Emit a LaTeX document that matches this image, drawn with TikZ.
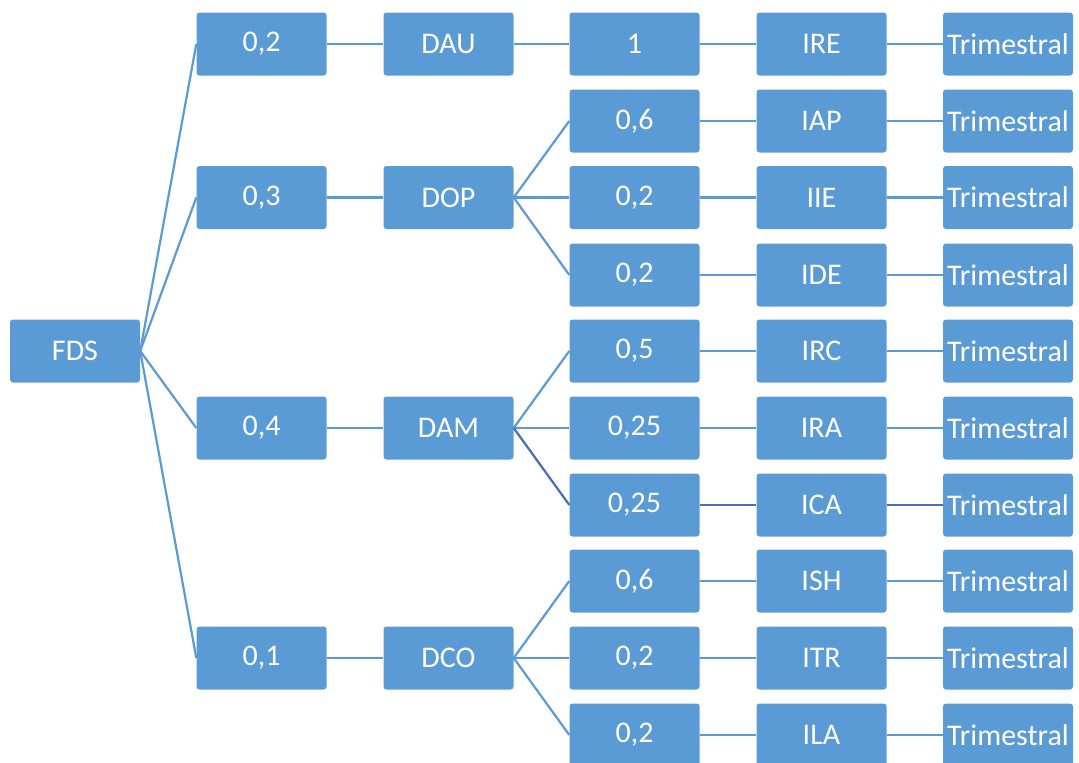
\documentclass[tikz,border=0pt]{standalone}
\usepackage{fontspec}
\setmainfont{Carlito}
\definecolor{boxblue}{HTML}{5B9BD5}
\definecolor{darkline}{HTML}{4A6DB8}
\begin{document}
\begin{tikzpicture}[x=1pt,y=-1pt,
  bx/.style={draw=none,fill=boxblue,rounded corners=3pt,minimum width=130pt,minimum height=63pt,inner sep=0pt,text=white,font=\fontsize{30}{34}\selectfont},
  ln/.style={draw=boxblue,line width=2.2pt},
  dln/.style={draw=darkline,line width=2.2pt}]
\useasboundingbox (0,0) rectangle (1079,763);
\clip (0,0) rectangle (1079,763);
% column 1
\node[bx] (fds) at (75,351) {FDS};
% column 2
\node[bx] (w1) at (261.5,44) {0,2};
\node[bx] (w2) at (261.5,197.5) {0,3};
\node[bx] (w3) at (261.5,428) {0,4};
\node[bx] (w4) at (261.5,658) {0,1};
% column 3
\node[bx] (dau) at (448.5,44) {DAU};
\node[bx] (dop) at (448.5,197.5) {DOP};
\node[bx] (dam) at (448.5,428) {DAM};
\node[bx] (dco) at (448.5,658) {DCO};
% column 4
\node[bx] (v1) at (634.5,44) {1};
\node[bx] (v2) at (634.5,121) {0,6};
\node[bx] (v3) at (634.5,197.5) {0,2};
\node[bx] (v4) at (634.5,275) {0,2};
\node[bx] (v5) at (634.5,351) {0,5};
\node[bx] (v6) at (634.5,428) {0,25};
\node[bx] (v7) at (634.5,505) {0,25};
\node[bx] (v8) at (634.5,581) {0,6};
\node[bx] (v9) at (634.5,658) {0,2};
\node[bx] (v10) at (634.5,735) {0,2};
% column 5
\node[bx] (i1) at (821.5,44) {IRE};
\node[bx] (i2) at (821.5,121) {IAP};
\node[bx] (i3) at (821.5,197.5) {IIE};
\node[bx] (i4) at (821.5,275) {IDE};
\node[bx] (i5) at (821.5,351) {IRC};
\node[bx] (i6) at (821.5,428) {IRA};
\node[bx] (i7) at (821.5,505) {ICA};
\node[bx] (i8) at (821.5,581) {ISH};
\node[bx] (i9) at (821.5,658) {ITR};
\node[bx] (i10) at (821.5,735) {ILA};
% column 6
\foreach \n/\y in {1/44,2/121,3/197.5,4/275,5/351,6/428,7/505,8/581,9/658,10/735}
  \node[bx] (t\n) at (1008,\y) {Trimestral};
% connectors
\foreach \k in {1,2,3,4} \draw[ln] (fds.east) -- (w\k.west);
\draw[ln] (w1) -- (dau);
\draw[ln] (w2) -- (dop);
\draw[ln] (w3) -- (dam);
\draw[ln] (w4) -- (dco);
\draw[ln] (dau) -- (v1);
\foreach \k in {2,3,4} \draw[ln] (dop.east) -- (v\k.west);
\draw[ln] (dam.east) -- (v5.west);
\draw[ln] (dam.east) -- (v6.west);
\draw[dln] (dam.east) -- (v7.west);
\foreach \k in {8,9,10} \draw[ln] (dco.east) -- (v\k.west);
\foreach \k in {1,...,6,8,9,10} \draw[ln] (v\k) -- (i\k);
\draw[dln] (v7) -- (i7);
\foreach \k in {1,...,6,8,9,10} \draw[ln] (i\k) -- (t\k);
\draw[dln] (i7) -- (t7);
\end{tikzpicture}
\end{document}
